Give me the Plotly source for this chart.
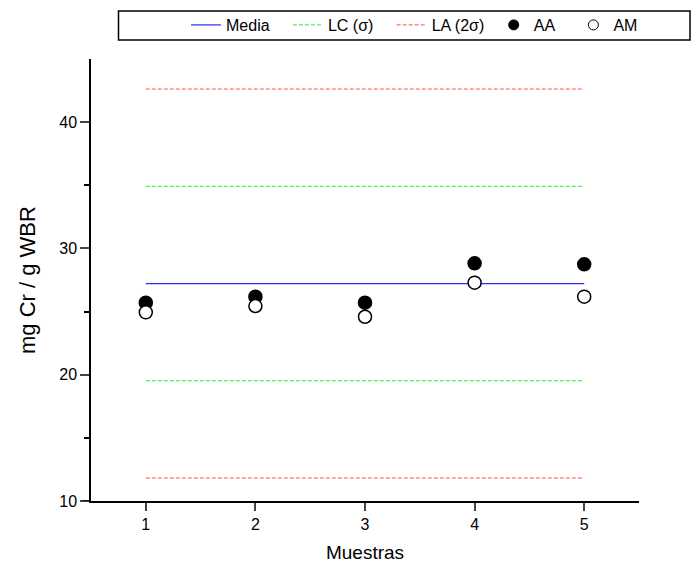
import plotly.graph_objects as go

muestras = [1, 2, 3, 4, 5]
aa = [25.70, 26.18, 25.70, 28.82, 28.74]
am = [24.94, 25.44, 24.59, 27.29, 26.18]
media = 27.22
sigma = 7.70
lc_low, lc_high = media - sigma, media + sigma
la_low, la_high = media - 2 * sigma, media + 2 * sigma
y_ticks = [10, 20, 30, 40]
y_minor = [15, 25, 35]

NB = "\u00a0"
font_family = "Liberation Sans, Arial, sans-serif"
BLUE, GREEN, RED = "#2b2bee", "#22ee22", "#ff5050"

fig = go.Figure()
fig.add_trace(go.Scatter(x=muestras, y=[media] * len(muestras), mode="lines",
                         line=dict(color=BLUE, width=1.2), name="Media" + NB * 3))
fig.add_trace(go.Scatter(x=muestras, y=[lc_high] * len(muestras), mode="lines",
                         line=dict(color=GREEN, width=1, dash="4px,2px"), name="LC (σ)" + NB * 3))
fig.add_trace(go.Scatter(x=muestras, y=[lc_low] * len(muestras), mode="lines",
                         line=dict(color=GREEN, width=1, dash="4px,2px"), showlegend=False))
fig.add_trace(go.Scatter(x=muestras, y=[la_high] * len(muestras), mode="lines",
                         line=dict(color=RED, width=1, dash="4px,2px"), name="LA (2σ)" + NB))
fig.add_trace(go.Scatter(x=muestras, y=[la_low] * len(muestras), mode="lines",
                         line=dict(color=RED, width=1, dash="4px,2px"), showlegend=False))
fig.add_trace(go.Scatter(x=muestras, y=aa, mode="markers", name="AA", showlegend=False,
                         legendgroup="aa",
                         marker=dict(symbol="circle", size=13, color="black",
                                     line=dict(color="black", width=1.5))))
fig.add_trace(go.Scatter(x=muestras, y=am, mode="markers", name="AM", showlegend=False,
                         legendgroup="am",
                         marker=dict(symbol="circle", size=13, color="white",
                                     line=dict(color="black", width=1.5))))
# legend-only entries with smaller symbols, as in the original legend
fig.add_trace(go.Scatter(x=[None], y=[None], mode="markers", name="AA" + NB * 3,
                         legendgroup="aa",
                         marker=dict(symbol="circle", size=10, color="black",
                                     line=dict(color="black", width=1))))
fig.add_trace(go.Scatter(x=[None], y=[None], mode="markers", name="AM",
                         legendgroup="am",
                         marker=dict(symbol="circle", size=10, color="white",
                                     line=dict(color="black", width=1))))

L, R, T, B = 91, 52, 59, 64
W, H = 691, 565
pw = W - L - R
ph = H - T - B


def px_x(p):
    return (p - L) / pw


def px_y(p):
    return (H - B - p) / ph


fig.update_layout(
    width=W, height=H,
    margin=dict(l=L, r=R, t=T, b=B, autoexpand=False),
    paper_bgcolor="white", plot_bgcolor="white",
    font=dict(family=font_family, color="black", size=16),
    showlegend=True,
    legend=dict(orientation="h", x=px_x(186), xanchor="left",
                y=px_y(8), yanchor="top",
                borderwidth=0, bgcolor="rgba(0,0,0,0)",
                font=dict(size=16, family=font_family),
                itemwidth=30, tracegroupgap=0),
    xaxis=dict(range=[0.5, 5.5], tickvals=muestras, ticks="outside", ticklen=8,
               tickwidth=1.5, showline=True, linecolor="black", linewidth=1.5,
               showgrid=False, zeroline=False, automargin=False,
               title=dict(text="Muestras", font=dict(size=19), standoff=14),
               tickfont=dict(size=16)),
    yaxis=dict(range=[10, 45], tickvals=y_ticks, ticks="outside", ticklen=9,
               tickwidth=1.5, showline=True, linecolor="black", linewidth=1.5,
               showgrid=False, zeroline=False, automargin=False,
               minor=dict(tickvals=y_minor, ticks="outside", ticklen=5,
                          tickwidth=1.5, tickcolor="black"),
               tickfont=dict(size=16)),
)

fig.add_annotation(text="mg Cr / g WBR", textangle=-90, xref="paper", yref="paper",
                   x=px_x(27), y=px_y(280), xanchor="center", yanchor="middle",
                   showarrow=False, font=dict(size=22, family=font_family))

fig.add_shape(type="line", xref="paper", yref="y", x0=px_x(82), x1=0, y0=10, y1=10,
              line=dict(color="black", width=1.5))
fig.add_shape(type="rect", xref="paper", yref="paper",
              x0=px_x(118.5), x1=px_x(690), y0=px_y(40), y1=px_y(11),
              line=dict(color="black", width=1.5))

fig.write_html("out.html")
